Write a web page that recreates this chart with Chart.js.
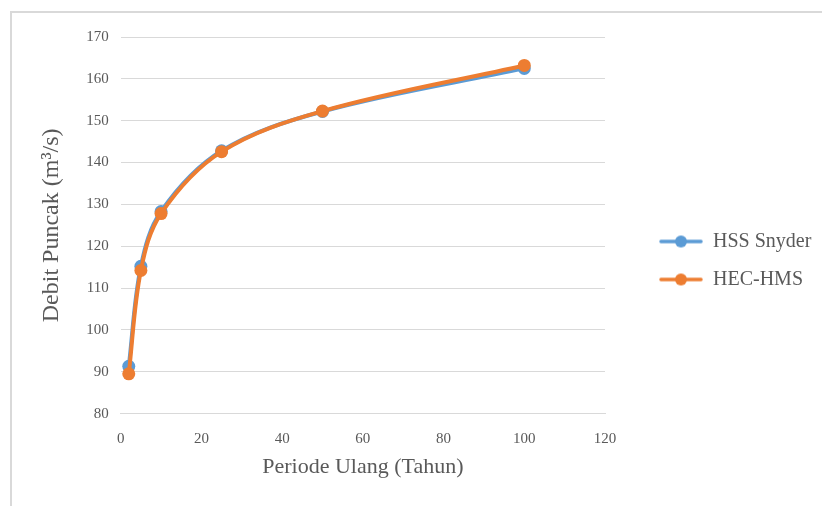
<!DOCTYPE html>
<html>
<head>
<meta charset="utf-8">
<script src="https://cdn.jsdelivr.net/npm/chart.js@4"></script>
<style>
  html, body { margin: 0; padding: 0; background: #fff; }
  #wrap { position: relative; width: 822px; height: 506px; overflow: hidden; }
  #frame { position: absolute; left: 10px; top: 11px; width: 900px; height: 600px;
           border-left: 2px solid #d9d9d9; border-top: 2px solid #d9d9d9; }
  canvas { position: absolute; left: 0; top: 0; }
</style>
</head>
<body>
<div id="wrap">
  <div id="frame"></div>
  <canvas id="chart" width="822" height="506"></canvas>
</div>
<script>
// return periods (years)
const periods = [2, 5, 10, 25, 50, 100];
// peak discharge (m3/s)
const snyder = [91.3, 115.2, 128.3, 142.8, 152.2, 162.5];
const hecHms = [89.5, 114.2, 127.8, 142.6, 152.3, 163.2];
const yTicks = [80, 90, 100, 110, 120, 130, 140, 150, 160, 170];
const xTicks = [0, 20, 40, 60, 80, 100, 120];

const serif = "'Liberation Serif', 'Times New Roman', serif";
const blue = '#5b9bd5';
const orange = '#ed7d31';

function toPoints(xs, ys) {
  return xs.map((x, i) => ({ x: x, y: ys[i] }));
}

// legend swatch: line with a dot in the middle
function swatch(color) {
  const c = document.createElement('canvas');
  c.width = 44;
  c.height = 14;
  const g = c.getContext('2d');
  g.strokeStyle = color;
  g.lineWidth = 3.5;
  g.lineCap = 'round';
  g.beginPath();
  g.moveTo(2, 7);
  g.lineTo(42, 7);
  g.stroke();
  g.fillStyle = color;
  g.beginPath();
  g.arc(22, 7, 6, 0, Math.PI * 2);
  g.fill();
  return c;
}

// push the legend away from the plot, like the excel layout
const legendGap = {
  id: 'legendGap',
  afterLayout(chart) {
    chart.legend.left += 36;
    chart.legend.right += 36;
  }
};

const ctx = document.getElementById('chart').getContext('2d');
new Chart(ctx, {
  type: 'line',
  data: {
    datasets: [
      {
        label: 'HSS Snyder',
        data: toPoints(periods, snyder),
        borderColor: blue,
        backgroundColor: blue,
        borderWidth: 4,
        pointRadius: 6.5,
        pointBorderWidth: 0,
        tension: 0.35,
        order: 1
      },
      {
        label: 'HEC-HMS',
        data: toPoints(periods, hecHms),
        borderColor: orange,
        backgroundColor: orange,
        borderWidth: 4,
        pointRadius: 6.5,
        pointBorderWidth: 0,
        tension: 0.35,
        order: 0
      }
    ]
  },
  options: {
    responsive: false,
    animation: false,
    layout: { padding: { left: 30, top: 37, bottom: 22, right: 0 } },
    plugins: {
      tooltip: { enabled: false },
      legend: {
        position: 'right',
        labels: {
          font: { family: serif, size: 20 },
          color: '#595959',
          padding: 18,
          usePointStyle: true,
          pointStyleWidth: 44,
          generateLabels: function (chart) {
            return chart.data.datasets.map((ds, i) => ({
              text: ds.label,
              datasetIndex: i,
              pointStyle: swatch(ds.borderColor),
              fontColor: '#595959',
              lineWidth: 0,
              hidden: false
            }));
          }
        }
      }
    },
    scales: {
      x: {
        type: 'linear',
        min: xTicks[0],
        max: xTicks[xTicks.length - 1],
        afterBuildTicks: function (scale) {
          scale.ticks = xTicks.map(v => ({ value: v }));
        },
        afterFit: function (scale) {
          scale.paddingRight = 217;
        },
        grid: { display: false, drawTicks: false },
        border: { display: true, color: '#d9d9d9', width: 1 },
        ticks: {
          padding: 16,
          color: '#595959',
          font: { family: serif, size: 15 }
        },
        title: {
          display: true,
          text: 'Periode Ulang (Tahun)',
          color: '#595959',
          font: { family: serif, size: 22 },
          padding: { top: -10, bottom: 4 }
        }
      },
      y: {
        min: yTicks[0],
        max: yTicks[yTicks.length - 1],
        afterBuildTicks: function (scale) {
          scale.ticks = yTicks.map(v => ({ value: v }));
        },
        grid: { color: '#d9d9d9', drawTicks: false },
        border: { display: false },
        ticks: {
          padding: 12,
          color: '#595959',
          font: { family: serif, size: 15 }
        },
        title: {
          display: true,
          text: 'Debit Puncak (m³/s)',
          color: '#595959',
          font: { family: serif, size: 24 },
          padding: { top: 7.6, bottom: 7.8 }
        }
      }
    }
  },
  plugins: [legendGap]
});
</script>
</body>
</html>
